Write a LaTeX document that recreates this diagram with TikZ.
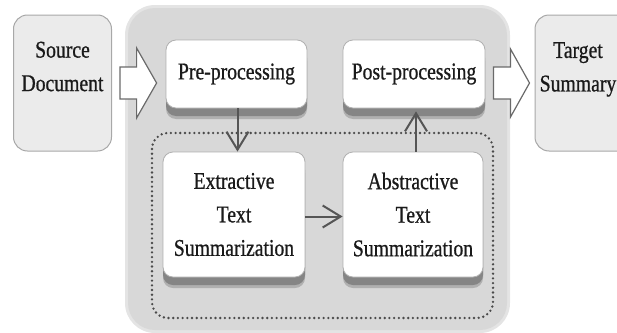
\documentclass[tikz,border=0pt]{standalone}
\usepackage{fontspec}
\setmainfont{Liberation Serif}[FakeStretch=0.82,FakeBold=0.8]
\usetikzlibrary{calc,arrows.meta,shadows}

\definecolor{outerfill}{HTML}{EBEBEB}
\definecolor{outeredge}{HTML}{A8A8A8}
\definecolor{panel}{HTML}{D8D8D8}
\definecolor{panelhalo}{HTML}{E4E4E4}
\definecolor{stepedge}{HTML}{B0B0B0}
\definecolor{shadowgray}{HTML}{858585}
\definecolor{shadowsoft}{HTML}{B0B0B0}
\definecolor{arrowgray}{HTML}{555555}
\definecolor{hollowedge}{HTML}{6A6A6A}
\definecolor{dotgray}{HTML}{4A4A4A}
\definecolor{inkgray}{HTML}{1A1A1A}

\begin{document}
\begin{tikzpicture}[x=1pt,y=-1pt,
  every node/.style={font=\fontsize{24}{33.5}\selectfont, text=inkgray},
  outerbox/.style={draw=outeredge, line width=1pt, fill=outerfill,
    rounded corners=14pt, minimum width=98pt, minimum height=136pt, inner sep=0pt},
  stepbox/.style={draw=stepedge, line width=0.8pt, fill=white, rounded corners=10pt,
    align=center, inner sep=0pt,
    drop shadow={shadow xshift=0pt, shadow yshift=-11pt, fill=shadowsoft, opacity=1},
    drop shadow={shadow xshift=0pt, shadow yshift=-8pt, fill=shadowgray, opacity=1}},
  labeltext/.style={anchor=north, align=center, inner sep=0pt},
  flow/.style={draw=arrowgray, line width=2pt, -{Straight Barb[length=18pt,width=22pt]}},
  hollow/.style={draw=hollowedge, fill=white, line width=1.2pt, line join=miter}]

\useasboundingbox (0,0) rectangle (617,332);
\clip (0,0) rectangle (617,332);

% grey processing panel with a soft rim
\fill[panelhalo, rounded corners=30pt] (125,5) rectangle (510,333);
\fill[panel, rounded corners=27pt] (128,8) rectangle (507,330);

% dotted frame round the two summarization stages
\draw[dotgray, line width=2.6pt, line cap=round, dash pattern=on 0pt off 4.7pt,
  rounded corners=16pt] (152,133) rectangle (493,318);

% input and output documents
\node[outerbox] (src) at (62.5,83) {};
\node[outerbox, minimum width=100pt] (tgt) at (585,83) {};
\node[labeltext] at ([yshift=-27pt]src.north) {Source\\Document};
\node[labeltext] at (578,42) {Target\\Summary};

% processing stages
\node[stepbox, minimum width=141pt, minimum height=68pt] (pre) at (236.5,74) {Pre-processing};
\node[stepbox, minimum width=142pt, minimum height=68pt] (post) at (414,74) {Post-processing};
\node[stepbox, minimum width=142pt, minimum height=125pt] (ext) at (234,214.5)
  {Extractive\\Text\\Summarization};
\node[stepbox, minimum width=140pt, minimum height=125pt] (abs) at (413,214.5)
  {Abstractive\\Text\\Summarization};

% flow between the stages
\draw[flow] ([xshift=1pt]pre.south) -- ([xshift=1pt]pre.south |- ext.north);
\draw[flow] ([yshift=-2pt]ext.east) -- ([yshift=-2pt]abs.west);
\draw[flow] ([xshift=3pt]abs.north) -- ([xshift=3pt,yshift=-3pt]abs.north |- post.south);

% wide hollow arrows in and out of the panel
\coordinate (inA) at (src.east);
\coordinate (inB) at (pre.west |- src.east);
\draw[hollow] ($(inA)+(8,-16)$) -- ($(inB)+(-29,-16)$) -- ($(inB)+(-29,-35)$)
  -- ($(inB)+(-9,0)$) -- ($(inB)+(-29,35)$) -- ($(inB)+(-29,16)$)
  -- ($(inA)+(8,16)$) -- cycle;

\coordinate (outA) at (post.east |- tgt.west);
\coordinate (outB) at (tgt.west);
\draw[hollow] ($(outA)+(8,-16)$) -- ($(outB)+(-24,-16)$) -- ($(outB)+(-24,-34)$)
  -- ($(outB)+(-5,0)$) -- ($(outB)+(-24,34)$) -- ($(outB)+(-24,16)$)
  -- ($(outA)+(8,16)$) -- cycle;
\end{tikzpicture}
\end{document}
